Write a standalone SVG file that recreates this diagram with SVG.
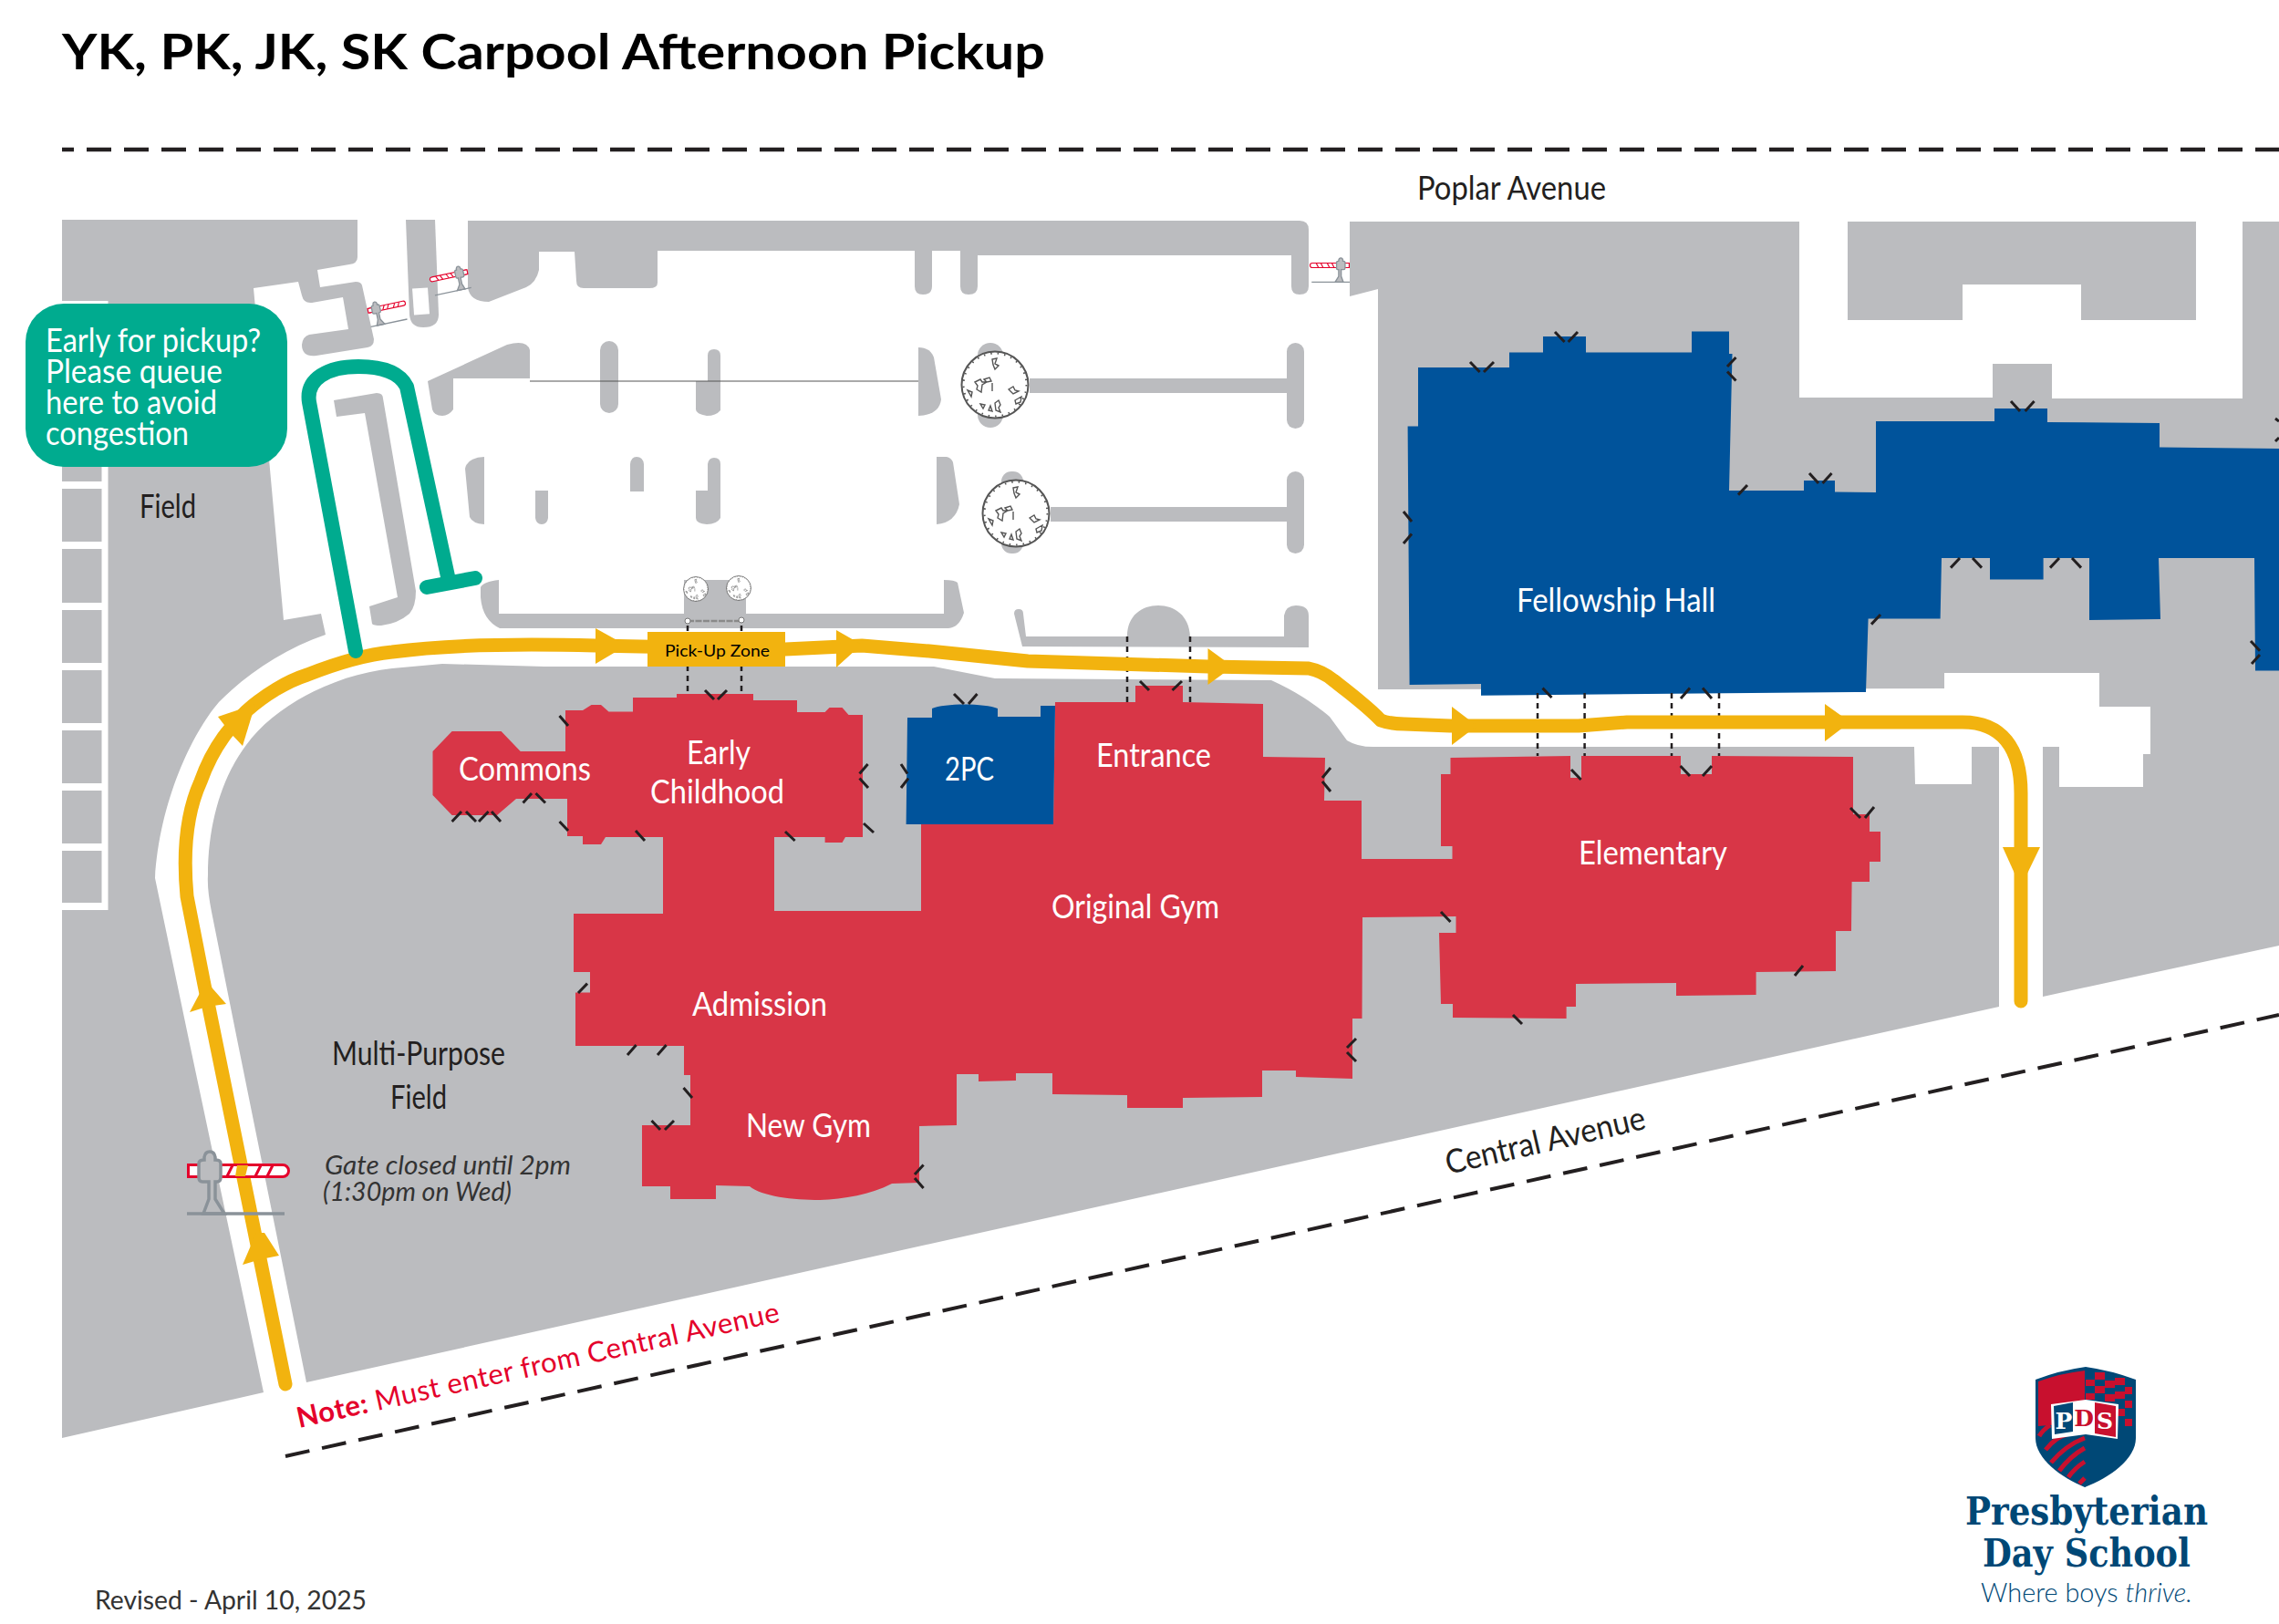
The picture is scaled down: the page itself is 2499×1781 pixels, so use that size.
<svg xmlns="http://www.w3.org/2000/svg" xmlns:xlink="http://www.w3.org/1999/xlink" width="2499" height="1781" viewBox="0 0 2499 1781">
<style>
.g{fill:#bbbcbf}
.rd{fill:#d83647}
.bl{fill:#00539b}
.au{fill:#f2b30f}
.t{font-family:"Lato","Liberation Sans",sans-serif;font-size:36px}
.w{fill:#fff}
.k{fill:#231f20}
.tick{fill:none;stroke:#231f20;stroke-width:3;stroke-linecap:butt}
.dot{fill:none;stroke:#231f20;stroke-width:2.5;stroke-dasharray:6 5}
.rung{fill:none;stroke:#fff;stroke-width:8}
.logo{font-family:"DejaVu Serif",serif;font-weight:700;font-size:42px;fill:#004876}
.pds{font-family:"DejaVu Serif",serif;font-weight:700;font-size:25px;text-anchor:middle}
</style>
<defs>
<g id="gate">
<rect x="1.5" y="14.5" width="110" height="13" rx="6.5" fill="#fff" stroke="#e4002b" stroke-width="3"/>
<path d="M1.5 14.5H20V27.5H1.5Z" fill="#fff" stroke="#e4002b" stroke-width="3"/>
<path d="M44 27L50 15M57 27L63 15M75 27L81 15M88 27L94 15" stroke="#e4002b" stroke-width="3" fill="none"/>
<path d="M18 68L24 52V33H17Q13 33 13 28V13Q13 9 19 9V6Q20 0 25 0Q30 0 31 6V9Q37 9 37 13V28Q37 33 33 33H31V52L41 68Z" fill="#bbbcbf" stroke="#8a9299" stroke-width="3.5"/>
<path d="M0 68H107" stroke="#8a9299" stroke-width="3.5" fill="none"/>
</g>
<g id="tree">
<circle r="36.5" fill="#fff" stroke="#555" stroke-width="2"/>
<circle r="34.5" fill="none" stroke="#555" stroke-width="2" stroke-dasharray="1.5 6"/>
<path d="M-3 -28l5 -1 -2 6 4 2 -4 4 -2 -5zM-22 -3l6 -3 2 3 5 0 -5 3 -1 8 -5 -3 1 -4zM15 5l5 -3 2 4 4 1 -6 3 -3 -3zM0 20l4 -3 2 5 -2 3 2 5 -5 -2zM-16 21l5 1 -2 4zM22 17l7 -4 -1 6 -5 2zM-12 -6l6 -2 2 4 -5 1zM-3 -2v9M-7 28l2 -5 2 6zM-30 6l5 2 -1 5z" fill="none" stroke="#555" stroke-width="1.4"/>
</g>
</defs>

<g id="pavement" class="g">
<path id="field-west" d="M68 241H392V282Q392 289 383 290L348 296 351 315 390 309Q396 309 397 313L410 372Q410 380 403 381L347 390Q331 392 331 378Q332 369 339 367L382 361 376 326 342 332Q333 333 331 324L327 309 278 316 311 680 352 673 357 696C310 712 270 740 240 770C210 805 175 880 170 963L207 1140 289 1527 68 1577Z"/>
<path id="field-center" d="M336 1516L260 1140 232 1000Q227 975 228 960C228 900 245 850 270 817C300 775 365 740 430 733L485 728 597 731 1024 731 1091 744 1394 746C1425 760 1445 775 1458 786L1477 812Q1490 820 1510 819H2099L2100 860H2162V819H2192V1104Z"/>
<path id="field-east" d="M2240 1093V819H2258V863H2350V827H2358V775H2302V738H2132V755L1511 756V317L1480 325V243H1973V436H2185V399H2250V437H2459V243H2499V1037Z"/>
<path d="M2026 243H2408V351H2282V312H2152V351H2026Z"/>
<path d="M445 241H477L481 345Q481 359 464 359Q450 359 449 345Z"/>
<rect x="453" y="316" width="17" height="29" fill="#fff" transform="rotate(-4 461 330)"/>
<path d="M513 242H1425Q1435 242 1435 252V314Q1435 323 1425 323Q1416 323 1416 314V280H1072V314Q1072 323 1062 323Q1053 323 1053 314V275H1022V314Q1022 323 1012 323Q1003 323 1003 314V275H721V310Q721 316 712 316H640Q632 316 632 308L630 276H591V296Q588 310 577 315L536 331Q515 331 513 315Z"/>
<path id="queue-island" d="M366 439L413 431Q420 431 420 437L456 648Q456 665 449 673Q436 684 418 686Q409 686 408 684L405 665 436 655 400 453 369 457Z"/>
<path d="M469 418L556 378Q578 372 581 384V415H497V449Q492 456 485 456Q476 456 474 449Z"/>
<rect x="658" y="374" width="20" height="79" rx="10"/>
<path d="M776 390Q776 383 783 383Q790 383 790 390V450Q785 456 775 456Q763 454 763 449V418H776Z"/>
<path d="M1007 381Q1020 381 1024 392L1032 438Q1030 455 1007 456Z"/>
<rect x="1072" y="376" width="28" height="93" rx="14"/>
<rect x="1129" y="415" width="285" height="16"/>
<rect x="1411" y="376" width="19" height="94" rx="9.5"/>
<rect x="1098" y="517" width="24" height="90" rx="11"/>
<rect x="1152" y="556" width="262" height="16"/>
<rect x="1411" y="517" width="19" height="90" rx="9.5"/>
<path d="M1027 501H1038Q1043 502 1045 507L1052 553Q1048 573 1027 575Z"/>
<path d="M531 501Q512 502 510 514L515 567Q518 574 531 575Z"/>
<path d="M587 538H601V568Q600 575 594 575Q588 575 587 568Z"/>
<path d="M691 509Q692 501 698 501Q705 501 706 509V539H691Z"/>
<path d="M776 509Q777 502 783 502Q790 502 790 509V568Q786 575 775 575Q763 574 763 568V538H776Z"/>
<path d="M527 644Q530 638 547 636V673H750V636H818V673H1035V636Q1047 636 1050 639L1057 672Q1052 688 1040 689H548Q529 680 527 655Z"/>
<path d="M1112 673Q1112 668 1117 668Q1122 668 1122 673L1125 698H1236C1236 675 1252 664 1270 664C1288 664 1304 675 1305 698H1408V675Q1410 664 1421 664Q1435 664 1435 675V710L1121 709Z"/>
</g>
<g id="parking-lines">
<path d="M581 418H1007" stroke="#555" stroke-width="1.2" fill="none"/>
<path d="M1121 530V555" stroke="#555" stroke-width="1.2" fill="none"/>
<path d="M754 681H813" stroke="#8a8a8a" stroke-width="2.5" stroke-dasharray="7 1.5" fill="none"/>
<circle cx="754" cy="681" r="3" fill="#fff" stroke="#777"/>
<circle cx="813" cy="680" r="3" fill="#fff" stroke="#777"/>
</g>
<g id="ladder">
<path class="rung" d="M68 334H113M68 400H113M68 466H113M68 532H113M68 598H113M68 665H113M68 731H113M68 797H113M68 863H113M68 929H113M68 994H113"/>
<path d="M115 330V998" stroke="#fff" stroke-width="7" fill="none"/>
</g>
<use id="tree-1" xlink:href="#tree" href="#tree" transform="translate(1091 422)"/>
<use id="tree-2" xlink:href="#tree" href="#tree" transform="translate(1114 563)"/>
<use id="tree-3" xlink:href="#tree" href="#tree" transform="translate(763 646) scale(.37)"/>
<use id="tree-4" xlink:href="#tree" href="#tree" transform="translate(810 645) scale(.37)"/>

<g id="building-elementary-wing">
<path class="rd" d="M620 779H639L648.5 773H659L667.5 780.5H694V765H742V761H826V768H874V781H904.6L909.5 776H923.5L930.5 784H946V918H927L923.5 924H904.6V918H849V999H1010V904H1155L1157 770H1245V752H1297V770L1385 772V830L1453 831 1452 878H1493V942H1592.5V928H1580V849H1590.5V831L1722 829V853H1734V829H1843V849H1877V829L2032 830V893H2050V912H2062V945H2050V967H2030.6L2030 1021H2013V1065L1925.6 1066V1091L1838 1092V1078L1728 1079V1104H1717.6V1117L1593 1116V1101H1580L1578 1023H1596.5V1005L1494 1006 1493.5 1117H1483L1483 1183 1421 1181V1174H1384V1203L1297 1204V1215L1236 1215V1201L1154 1200V1177L1114 1177V1185L1073 1186V1178H1049V1234L1008 1235V1297L978 1298C955 1310 925 1315 899 1316C870 1316 835 1312 822 1301L785 1300V1315H735V1301H704V1234H757V1179H750V1147H631V1088.5H647V1066H629V1002H727V918H664L659 926 639 926V917H622V876H566L545 894H495.6L474.5 872V824L495.6 802H549.6L570.7 824H620Z"/>
</g>
<g id="node-2pc">
<path class="bl" d="M995 787H1022V777C1035 771 1080 771 1094 777V786H1141V774H1157L1155 904H993.6Z"/>
<text class="t w" x="1036" y="856" textLength="54" lengthAdjust="spacingAndGlyphs">2PC</text>
</g>
<g id="node-fellowship">
<path class="bl" d="M1555 403H1655V386.5H1692V369H1739V386.5H1855V363.5H1896V388H1899.5L1896 538H1978V527H2012V539.6L2057 540V462H2187V448H2245V463L2368 464V490.6L2499 492V735.5H2473L2472 612H2367L2369 679 2291 680V612H2240.6V635.6H2182V612H2129L2127.6 678.5H2048.6L2046 759 1624 762.7V750L1545.6 751 1543.6 467.6H1555Z"/>
<text class="t w" x="1663" y="671" textLength="218" lengthAdjust="spacingAndGlyphs">Fellowship Hall</text>
</g>
<g id="node-commons"><text class="t w" x="503" y="856" textLength="145" lengthAdjust="spacingAndGlyphs">Commons</text></g>
<g id="node-early-childhood">
<text class="t w" x="753" y="838" textLength="70" lengthAdjust="spacingAndGlyphs">Early</text>
<text class="t w" x="713" y="881" textLength="147" lengthAdjust="spacingAndGlyphs">Childhood</text>
</g>
<g id="node-entrance"><text class="t w" x="1202" y="841" textLength="126" lengthAdjust="spacingAndGlyphs">Entrance</text></g>
<g id="node-original-gym"><text class="t w" x="1153" y="1007" textLength="184" lengthAdjust="spacingAndGlyphs">Original Gym</text></g>
<g id="node-admission"><text class="t w" x="759" y="1114" textLength="148" lengthAdjust="spacingAndGlyphs">Admission</text></g>
<g id="node-new-gym"><text class="t w" x="818" y="1247" textLength="137" lengthAdjust="spacingAndGlyphs">New Gym</text></g>
<g id="node-elementary"><text class="t w" x="1731" y="948" textLength="163" lengthAdjust="spacingAndGlyphs">Elementary</text></g>

<g id="doors">
<path class="tick" d="M1612 397L1622.6 408M1638 397L1627 408M1705 364L1715.6 375M1730 364L1719.6 375M1903.5 392L1894 402M1894 407.5L1903.5 417.5M1916 532L1906 542.6M1984 519L1994 530M2008.5 519L1998.5 530M2205 440L2215 451M2230.6 440L2220.6 451M2149 612L2139 622.6M2163 612L2173 622.6M2258 612L2248 622.6M2272 612L2282 622.6M2468 703L2478 713.7M2478 718L2469 728M2495 459L2499 462M2499 480L2495 484M1539 561L1548 572M1548 585.5L1539 596M2062 674L2052 684.6M1691.5 754.6L1701.5 765M1853 754.6L1843 766M1867 754.6L1877 766"/>
<path class="tick" d="M1723 844L1733.6 855M1842.6 840L1853 851M1877 840L1867 851M2029 886L2040 897M2055 885L2045 897M1580 1000L1590.5 1011M1977 1059L1968 1070M1659 1113L1669 1123M1477 1149L1487 1139M1477 1154L1487 1164M1459 842L1450 853M1450 857L1459 868"/>
<path class="tick" d="M773 757L783 767M797 757L787 767M613.5 785L623 796M951.6 838L942.5 848.5M942.5 853.6L952 864M988 838L995 848.5M996 853.6L988 864M613.5 901L623 911M697 911L707 922M861 912L871.6 922M947 903L958 913M495.6 901L506 890M511 890L522 901M525 901L535.6 890M539 890L549 901M573.5 880.5L583 870M587.5 870L598 880.5M1046 761L1057 772M1071.5 761L1062 772M1250 747L1260 757M1296 747L1285.5 757M644 1078.6L634 1089M697.6 1146L688 1157M730.6 1146L721 1157M749.5 1193L759 1204M714.5 1229L724 1239M739 1229L729 1239M1012.6 1277.5L1003 1288M1003 1292L1012.6 1303"/>
<path class="dot" d="M754 686V758M813 686V758M1236 698V770M1305 698V770M1686 760V829M1737.6 760V829M1833 760V829M1885 760V829"/>
</g>

<g id="connectors">
<path id="pickup-route" d="M313 1518L224 1080 205 983C200 930 205 890 220 857C235 815 255 795 270 780C290 762 315 747 337 740C370 727 400 718 430 715C490 707 580 706 653 708L861 712 945 708 1019 714 1127 725 1325 731 1435 733Q1450 736 1462 746C1480 760 1500 775 1514 790Q1525 794 1540 794L1590 796H1731L1784 792H2152C2195 792 2216 820 2216 870V1098" fill="none" stroke="#f2b30f" stroke-width="15" stroke-linecap="round" stroke-linejoin="round"/>
<g class="au">
<polygon points="208,1110 226,1076 248,1101 227,1104"/>
<polygon points="239,786 280,772 266,818 252,803"/>
<polygon points="653,689 680,704 688,708 680,712 653,728"/>
<polygon points="917,691 938,703 945,707 938,713 917,732"/>
<polygon points="1324.5,711 1345,726 1352,731 1345,736 1324.5,751"/>
<polygon points="1592,775 1613,791 1620,796 1613,801 1592,817"/>
<polygon points="2001,772 2022,787 2029,792 2022,797 2001,813"/>
<polygon points="2196,929 2237,929 2222,960 2216,966 2210,960"/>
<polygon points="266,1387 281,1352 290,1352 306,1377 286,1381"/>
</g>
<path id="queue-route" d="M390 714L339 441C335 415 360 402 393 402C420 402 438 408 446 424L491 632" fill="none" stroke="#00ab8f" stroke-width="16" stroke-linecap="round" stroke-linejoin="round"/>
<path d="M468 644L521 634" fill="none" stroke="#00ab8f" stroke-width="16" stroke-linecap="round"/>
</g>

<g id="node-pickup-zone">
<rect class="au" x="710" y="693" width="151" height="38"/>
<text x="729" y="720" textLength="115" lengthAdjust="spacingAndGlyphs" style="font-family:Lato,'Liberation Sans',sans-serif;font-size:18px" fill="#000">Pick-Up Zone</text>
</g>

<g id="gates">
<use xlink:href="#gate" href="#gate" transform="translate(205 1263)"/>
<polygon class="au" points="260,1278 272,1278 269,1290 258,1290"/>
<use xlink:href="#gate" href="#gate" transform="translate(403 341) rotate(-12) scale(.38) translate(0 -21)"/>
<use xlink:href="#gate" href="#gate" transform="translate(513 298) rotate(-12) scale(-.38 .38) translate(0 -21)"/>
<use xlink:href="#gate" href="#gate" transform="translate(1480 291) scale(-.39 .39) translate(0 -21)"/>
</g>

<g id="node-early-callout">
<rect x="28" y="333" width="287" height="179" rx="42" fill="#00ab8f"/>
<text class="t w" x="50" y="386" textLength="236" lengthAdjust="spacingAndGlyphs">Early for pickup?</text>
<text class="t w" x="50" y="420" textLength="194" lengthAdjust="spacingAndGlyphs">Please queue</text>
<text class="t w" x="50" y="454" textLength="188" lengthAdjust="spacingAndGlyphs">here to avoid</text>
<text class="t w" x="50" y="488" textLength="157" lengthAdjust="spacingAndGlyphs">congestion</text>
</g>

<g id="labels">
<text x="68" y="76" textLength="1078" lengthAdjust="spacingAndGlyphs" style="font-family:Lato,'Liberation Sans',sans-serif;font-weight:700;font-size:54px" fill="#000">YK, PK, JK, SK Carpool Afternoon Pickup</text>
<text class="t k" x="1554" y="219" textLength="207" lengthAdjust="spacingAndGlyphs">Poplar Avenue</text>
<text class="t k" x="153" y="568" textLength="62" lengthAdjust="spacingAndGlyphs">Field</text>
<text class="t k" x="364" y="1168" textLength="190" lengthAdjust="spacingAndGlyphs">Multi-Purpose</text>
<text class="t k" x="428" y="1216" textLength="62" lengthAdjust="spacingAndGlyphs">Field</text>
<text x="356" y="1288" textLength="270" lengthAdjust="spacingAndGlyphs" style="font-family:Lato,'Liberation Sans',sans-serif;font-style:italic;font-size:28px" fill="#333">Gate closed until 2pm</text>
<text x="354" y="1317" textLength="207" lengthAdjust="spacingAndGlyphs" style="font-family:Lato,'Liberation Sans',sans-serif;font-style:italic;font-size:28px" fill="#333">(1:30pm on Wed)</text>
<text class="t k" transform="translate(1588 1288) rotate(-13)" textLength="224" lengthAdjust="spacingAndGlyphs">Central Avenue</text>
<text transform="translate(328 1566) rotate(-12.5)" textLength="541" style="font-family:Lato,'Liberation Sans',sans-serif;font-size:31px" fill="#e4002b"><tspan font-weight="700">Note:</tspan> Must enter from Central Avenue</text>
<text x="104" y="1765" textLength="298" lengthAdjust="spacingAndGlyphs" style="font-family:Lato,'Liberation Sans',sans-serif;font-size:28px" fill="#333">Revised - April 10, 2025</text>
</g>

<g id="road-edges" fill="none" stroke="#231f20" stroke-width="4.3">
<path d="M68 164H2499" stroke-dasharray="27 14" stroke-dashoffset="14"/>
<path d="M313 1597L2499 1113" stroke-dasharray="27 14" stroke-width="4"/>
</g>

<g id="logo">
<path fill="#004876" d="M2287 1499Q2258 1503 2232 1513V1577C2232 1600 2260 1620 2286 1631C2314 1620 2342 1600 2342 1577V1513Q2315 1503 2287 1499Z"/>
<path fill="#c8102e" d="M2235 1515Q2260 1506 2286 1503V1560L2235 1564Z"/>
<path fill="none" stroke="#c8102e" stroke-width="5" d="M2236 1575Q2240 1568 2248 1563M2243 1590Q2255 1575 2267 1573M2249 1604Q2265 1585 2286 1577M2258 1613Q2270 1597 2286 1588M2268 1620Q2275 1610 2286 1603M2280 1627L2286 1621"/>
<g fill="#c8102e">
<rect x="2297" y="1505" width="11" height="8"/><rect x="2319" y="1511" width="11" height="8"/><rect x="2308" y="1514" width="11" height="8"/><rect x="2287" y="1513" width="10" height="7"/><rect x="2297" y="1520" width="11" height="8"/><rect x="2330" y="1521" width="8" height="8"/><rect x="2319" y="1526" width="11" height="8"/><rect x="2308" y="1529" width="11" height="8"/><rect x="2330" y="1536" width="8" height="8"/><rect x="2322" y="1545" width="8" height="8"/><rect x="2330" y="1556" width="8" height="8"/><rect x="2287" y="1528" width="10" height="7"/>
</g>
<polygon fill="#fff" points="2249,1540 2287,1535 2323,1540 2322,1578 2287,1573 2250,1578"/>
<polygon fill="#004876" points="2252,1542 2273,1538 2273,1570 2253,1573"/>
<polygon fill="#c8102e" points="2297,1538 2320,1542 2320,1576 2297,1572"/>
<text class="pds" x="2263" y="1567" fill="#fff">P</text>
<text class="pds" x="2285" y="1564" fill="#c8102e">D</text>
<text class="pds" x="2308" y="1567" fill="#fff">S</text>
<text class="logo" x="2155" y="1672" textLength="266" lengthAdjust="spacingAndGlyphs">Presbyterian</text>
<text class="logo" x="2174" y="1718" textLength="228" lengthAdjust="spacingAndGlyphs">Day School</text>
<text x="2172" y="1757" textLength="232" lengthAdjust="spacingAndGlyphs" style="font-family:Lato,'Liberation Sans',sans-serif;font-weight:300;font-size:30px" fill="#004876">Where boys <tspan font-style="italic">thrive.</tspan></text>
</g>
</svg>
